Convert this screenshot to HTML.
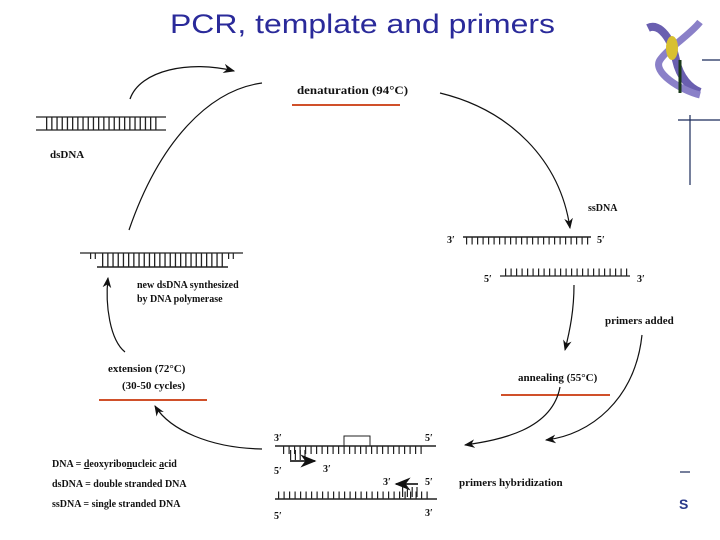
<!DOCTYPE html>
<html><head><meta charset="utf-8"><style>
html,body{margin:0;padding:0;background:#fff;width:720px;height:540px;overflow:hidden}
svg{display:block}
.s{font-family:"Liberation Serif",serif;font-weight:bold;font-size:11px;fill:#111}
.p{font-family:"Liberation Serif",serif;font-weight:bold;font-size:10px;fill:#111}
</style></head><body>
<svg width="720" height="540" viewBox="0 0 720 540" xmlns="http://www.w3.org/2000/svg">
<defs>
<marker id="a" viewBox="0 0 10 10" refX="9" refY="5" markerWidth="9" markerHeight="9" orient="auto-start-reverse"><path d="M0,1 L10,5 L0,9 L3,5z" fill="#111"/></marker>
</defs>
<text x="170" y="33" textLength="385" lengthAdjust="spacingAndGlyphs" font-family="Liberation Sans,sans-serif" font-size="27" fill="#2a2a9a">PCR, template and primers</text>

<!-- right decoration -->
<g stroke="#1a2a5a" stroke-width="1.2" fill="none">
<line x1="702" y1="60" x2="720" y2="60"/>
<line x1="678" y1="120" x2="720" y2="120"/>
<line x1="690" y1="115" x2="690" y2="185"/>
<line x1="680" y1="472" x2="690" y2="472"/>
</g>
<g>
<path d="M648,28 C660,22 672,40 676,60 C680,78 690,88 700,92" stroke="#6a5fb0" stroke-width="8" fill="none"/>
<path d="M700,22 C690,35 668,48 660,60 C652,72 680,90 700,95" stroke="#8a80c8" stroke-width="7" fill="none"/>
<ellipse cx="672" cy="48" rx="6" ry="12" fill="#d8c030"/>
<path d="M680,60 L680,93" stroke="#1a3a1a" stroke-width="3"/>
</g>
<text x="679" y="509" font-family="Liberation Sans,sans-serif" font-weight="bold" font-size="14" fill="#2a3a8a">S</text>

<!-- top dsDNA -->
<line x1="36" y1="117" x2="166" y2="117" stroke="#222" stroke-width="1.3"/>
<line x1="36" y1="130" x2="166" y2="130" stroke="#222" stroke-width="1.3"/>
<line x1="46" y1="123.5" x2="158" y2="123.5" stroke="#222" stroke-width="12" stroke-dasharray="1.3 3.9"/>
<text class="s" x="50" y="158">dsDNA</text>

<!-- arcs -->
<path d="M130,99 C140,70 190,60 234,71" stroke="#111" stroke-width="1.3" fill="none" marker-end="url(#a)"/>
<path d="M129,230 C160,140 210,90 262,83" stroke="#111" stroke-width="1.2" fill="none"/>
<path d="M440,93 C510,110 560,160 570,228" stroke="#111" stroke-width="1.2" fill="none" marker-end="url(#a)"/>

<text class="s" x="297" y="94" textLength="111" lengthAdjust="spacingAndGlyphs" style="font-size:12px">denaturation (94°C)</text>
<line x1="292" y1="105" x2="400" y2="105" stroke="#d0502a" stroke-width="2"/>

<text class="p" x="588" y="211">ssDNA</text>
<text class="p" x="447" y="243">3′</text>
<line x1="463" y1="237" x2="591" y2="237" stroke="#222" stroke-width="1.5"/>
<line x1="466" y1="241" x2="590" y2="241" stroke="#222" stroke-width="7" stroke-dasharray="1.2 4.3"/>
<text class="p" x="597" y="243">5′</text>
<text class="p" x="484" y="282">5′</text>
<line x1="500" y1="276" x2="630" y2="276" stroke="#222" stroke-width="1.3"/>
<line x1="505" y1="272" x2="628" y2="272" stroke="#222" stroke-width="7" stroke-dasharray="1.2 4.3"/>
<text class="p" x="637" y="282">3′</text>

<path d="M574,285 C574,310 570,330 565,350" stroke="#111" stroke-width="1.2" fill="none" marker-end="url(#a)"/>
<text class="s" x="605" y="324">primers added</text>
<text class="s" x="518" y="381">annealing (55°C)</text>
<line x1="501" y1="395" x2="610" y2="395" stroke="#d0502a" stroke-width="2"/>
<path d="M560,387 C552,430 500,440 465,445" stroke="#111" stroke-width="1.2" fill="none" marker-end="url(#a)"/>
<path d="M642,335 C635,400 590,435 546,440" stroke="#111" stroke-width="1.2" fill="none" marker-end="url(#a)"/>

<!-- bottom strands -->
<text class="p" x="274" y="441">3′</text>
<text class="p" x="425" y="441">5′</text>
<line x1="275" y1="446" x2="436" y2="446" stroke="#222" stroke-width="1.4"/>
<rect x="344" y="436" width="26" height="10" fill="none" stroke="#222" stroke-width="1"/>
<line x1="283" y1="450" x2="425" y2="450" stroke="#222" stroke-width="8" stroke-dasharray="1.2 4.3"/>
<line x1="290" y1="455" x2="306" y2="455" stroke="#222" stroke-width="10" stroke-dasharray="1.2 3.6"/>
<line x1="290" y1="461" x2="315" y2="461" stroke="#222" stroke-width="1.8" marker-end="url(#a)"/>
<text class="p" x="274" y="474">5′</text>
<text class="p" x="323" y="472">3′</text>
<text class="p" x="383" y="485">3′</text>
<line x1="418" y1="484" x2="396" y2="484" stroke="#222" stroke-width="1.8" marker-end="url(#a)"/>
<text class="p" x="425" y="485">5′</text>
<line x1="402" y1="492" x2="418" y2="492" stroke="#222" stroke-width="10" stroke-dasharray="1.2 3.6"/>
<line x1="278" y1="495" x2="432" y2="495" stroke="#222" stroke-width="7" stroke-dasharray="1.2 4.3"/>
<line x1="275" y1="499" x2="437" y2="499" stroke="#222" stroke-width="1.4"/>
<text class="p" x="274" y="519">5′</text>
<text class="p" x="425" y="516">3′</text>
<text class="s" x="459" y="486">primers hybridization</text>

<path d="M262,449 C210,448 170,430 155,406" stroke="#111" stroke-width="1.2" fill="none" marker-end="url(#a)"/>
<text class="s" x="108" y="372">extension (72°C)</text>
<text class="s" x="122" y="389">(30-50 cycles)</text>
<line x1="99" y1="400" x2="207" y2="400" stroke="#d0502a" stroke-width="2"/>
<path d="M125,352 C110,340 105,305 108,278" stroke="#111" stroke-width="1.2" fill="none" marker-end="url(#a)"/>

<!-- new dsDNA -->
<line x1="80" y1="253" x2="243" y2="253" stroke="#222" stroke-width="1.3"/>
<line x1="97" y1="267" x2="228" y2="267" stroke="#222" stroke-width="1.6"/>
<line x1="102" y1="260" x2="225" y2="260" stroke="#222" stroke-width="13" stroke-dasharray="1.3 3.9"/>
<line x1="90" y1="256" x2="98" y2="256" stroke="#222" stroke-width="6" stroke-dasharray="1.2 3.5"/>
<line x1="228" y1="256" x2="236" y2="256" stroke="#222" stroke-width="6" stroke-dasharray="1.2 3.5"/>
<text class="p" x="137" y="288">new dsDNA synthesized</text>
<text class="p" x="137" y="302">by DNA polymerase</text>

<text class="p" x="52" y="467">DNA = <tspan text-decoration="underline">d</tspan>eoxyribo<tspan text-decoration="underline">n</tspan>ucleic <tspan text-decoration="underline">a</tspan>cid</text>
<text class="p" x="52" y="487">dsDNA = double stranded DNA</text>
<text class="p" x="52" y="507">ssDNA = single stranded DNA</text>
</svg>
</body></html>
